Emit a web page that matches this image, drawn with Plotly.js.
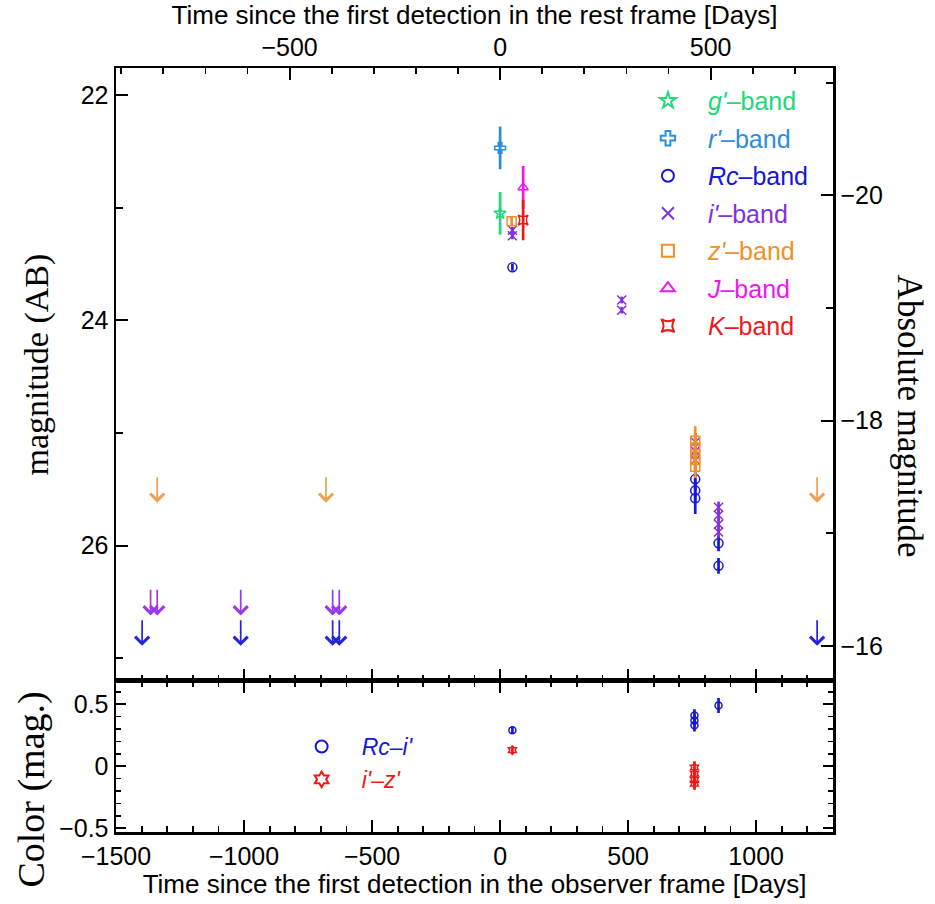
<!DOCTYPE html>
<html><head><meta charset="utf-8">
<script src="https://cdn.plot.ly/plotly-3.0.1.min.js"></script>
<style>html,body{margin:0;padding:0;background:#fff}</style>
</head><body>
<div id="chart" style="width:935px;height:904px"></div>
<script>
// ---- data (observer-frame days, AB magnitudes) ----
const gX = [0];            const gMag = [23.05];  const gErr = [0.19];
const rX = [0];            const rMag = [22.47];  const rErr = [0.19];
const RcX = [48, 762, 762, 762, 853, 853];
const RcMag = [23.53, 25.41, 25.51, 25.58, 25.98, 26.18];
const RcErr = [0.03, 0.10, 0.10, 0.14, 0.07, 0.07];
const iX = [48, 48, 475, 475, 762, 762, 762, 853, 853, 853, 853];
const iMag = [23.20, 23.25, 23.82, 23.91, 25.08, 25.16, 25.24, 25.66, 25.73, 25.81, 25.88];
const iErr = [0.03, 0.03, 0.03, 0.03, 0.08, 0.08, 0.08, 0.05, 0.05, 0.05, 0.05];
const zX = [45, 762, 762, 762, 762, 762];
const zMag = [23.12, 25.07, 25.13, 25.19, 25.24, 25.30];
const zErr = [0.04, 0.13, 0.10, 0.10, 0.10, 0.10];
const JX = [90];  const JMag = [22.82];  const JErr = [0.19];
const KX = [90];  const KMag = [23.11];  const KErr = [0.18];

// upper limits
const zLimX = [-1339, -680, 1238];             const zLim = [25.38, 25.38, 25.38];
const iLimX = [-1365, -1339, -1013, -654, -628]; const iLim = [26.38, 26.38, 26.38, 26.38, 26.38];
const RcLimX = [-1398, -1013, -654, -628, 1238]; const RcLim = [26.65, 26.65, 26.65, 26.65, 26.65];

// colours
const RciX = [48, 759, 759, 759, 853];
const Rci = [0.29, 0.41, 0.37, 0.33, 0.49];
const RciErr = [0.03, 0.05, 0.05, 0.05, 0.06];
const izX = [48, 759, 759, 759, 759];
const iz = [0.13, -0.01, -0.06, -0.11, -0.14];
const izErr = [0.03, 0.05, 0.05, 0.05, 0.05];

const REDSHIFT = 0.644;     // observer -> rest frame
const DIST_MOD = 42.89;     // apparent -> absolute
const X_RANGE = [-1500, 1300];
const MAG_RANGE = [27.2, 21.76];
const COL_RANGE = [-0.53, 0.69];
const ARROW_LEN = 0.24;

const C = {g:'#22d878', r:'#2a8ee0', Rc:'#1616dc', i:'#8230e0', z:'#f0902a', J:'#ee18ee', K:'#ee1a1a',
           zLim:'#f0a050', iLim:'#9a38ee', RcLim:'#2424dc'};

const SANS = 'Liberation Sans, Arial, sans-serif';
const SERIF = 'Liberation Serif, Times New Roman, serif';

function band(x, y, e, name, col, sym, xa, ya, leg, size){
  return {type:'scatter', mode:'markers', x:x, y:y, xaxis:xa, yaxis:ya, legend:leg,
    name:'<span style="color:'+col+'">'+name+'</span>', legendgroup:name,
    marker:{symbol:sym, size:size||9, color:col, line:{color:col, width:1.5}},
    error_y:{type:'data', array:e, visible:true, color:col, thickness:2.7, width:0},
    hoverinfo:'skip'};
}

const traces = [
  band(gX, gMag, gErr, "<i>g'</i>–band", C.g, 'star-open', 'x2', 'y', 'legend'),
  band(rX, rMag, rErr, "<i>r'</i>–band", C.r, 'cross-open', 'x2', 'y', 'legend'),
  band(RcX, RcMag, RcErr, "<i>Rc</i>–band", C.Rc, 'circle-open', 'x2', 'y', 'legend'),
  band(iX, iMag, iErr, "<i>i'</i>–band", C.i, 'x-thin', 'x2', 'y', 'legend'),
  band(zX, zMag, zErr, "<i>z'</i>–band", C.z, 'square-open', 'x2', 'y', 'legend'),
  band(JX, JMag, JErr, "<i>J</i>–band", C.J, 'triangle-up-open', 'x2', 'y', 'legend'),
  band(KX, KMag, KErr, "<i>K</i>–band", C.K, 'star-square-open', 'x2', 'y', 'legend'),
  band(RciX, Rci, RciErr, "<i>Rc–i'</i>", C.Rc, 'circle-open', 'x', 'y2', 'legend2', 7),
  band(izX, iz, izErr, "<i>i'–z'</i>", C.K, 'hexagram-open', 'x', 'y2', 'legend2', 7),
  {type:'scatter', x:[null], y:[null], xaxis:'x3', yaxis:'y', showlegend:false, hoverinfo:'skip'},
  {type:'scatter', x:[null], y:[null], xaxis:'x2', yaxis:'y3', showlegend:false, hoverinfo:'skip'}
];

const annotations = [];
function limits(xs, ys, col){
  xs.forEach((x, k) => annotations.push({xref:'x2', yref:'y', axref:'x2', ayref:'y',
    x:x, y:ys[k] + ARROW_LEN, ax:x, ay:ys[k], text:'', showarrow:true,
    arrowhead:4, arrowsize:1.6, arrowwidth:1.7, arrowcolor:col}));
}
limits(zLimX, zLim, C.zLim);
limits(iLimX, iLim, C.iLim);
limits(RcLimX, RcLim, C.RcLim);

annotations.push(
  {xref:'paper', yref:'paper', x:-0.11, y:0.612, text:'magnitude (AB)', textangle:-90, showarrow:false,
   xanchor:'center', yanchor:'middle', font:{family:SERIF, size:34, color:'#000'}},
  {xref:'paper', yref:'paper', x:-0.118, y:0.056, text:'Color (mag.)', textangle:-90, showarrow:false,
   xanchor:'center', yanchor:'middle', font:{family:SERIF, size:38, color:'#000'}},
  {xref:'paper', yref:'paper', x:1.106, y:0.545, text:'Absolute magnitude', textangle:90, showarrow:false,
   xanchor:'center', yanchor:'middle', font:{family:SERIF, size:35, color:'#000'}}
);

const tickStyle = {ticks:'inside', tickcolor:'#000', tickwidth:2, showline:true, linecolor:'#000', linewidth:2.5,
  showgrid:false, zeroline:false, tickfont:{family:SANS, size:25, color:'#000'}};
const MAIN_DOMAIN = [0.198, 1];
const SUB_DOMAIN = [0, 0.198];

const layout = {
  width:935, height:904, margin:{l:116, r:102, t:68, b:72},
  paper_bgcolor:'#fff', plot_bgcolor:'#fff',
  font:{family:SANS, size:25, color:'#000'},
  showlegend:true,
  xaxis: Object.assign({}, tickStyle, {domain:[0,1], anchor:'y2', range:X_RANGE, tick0:0, dtick:500, ticklen:12,
    mirror:'ticks', minor:{dtick:100, ticks:'inside', ticklen:6, tickwidth:1.8, tickcolor:'#000'},
    title:{text:'Time since the first detection in the observer frame [Days]', font:{family:SANS, size:26}, standoff:2}}),
  xaxis2: Object.assign({}, tickStyle, {domain:[0,1], anchor:'y', range:X_RANGE, tick0:0, dtick:500, ticklen:12,
    mirror:true, showticklabels:false, minor:{dtick:100, ticks:'inside', ticklen:6, tickwidth:1.8, tickcolor:'#000'}}),
  xaxis3: Object.assign({}, tickStyle, {overlaying:'x2', side:'top', anchor:'y',
    range:[X_RANGE[0]/(1+REDSHIFT), X_RANGE[1]/(1+REDSHIFT)], tick0:0, dtick:500, ticklen:12,
    minor:{dtick:100, ticks:'inside', ticklen:6, tickwidth:1.8, tickcolor:'#000'},
    title:{text:'Time since the first detection in the rest frame [Days]', font:{family:SANS, size:26}, standoff:2}}),
  yaxis: Object.assign({}, tickStyle, {domain:MAIN_DOMAIN, anchor:'x2', range:MAG_RANGE, tick0:22, dtick:2, ticklen:12,
    mirror:true, minor:{dtick:1, ticks:'inside', ticklen:7, tickwidth:1.8, tickcolor:'#000'}}),
  yaxis3: Object.assign({}, tickStyle, {overlaying:'y', side:'right', anchor:'x2',
    range:[MAG_RANGE[0]-DIST_MOD, MAG_RANGE[1]-DIST_MOD], tick0:-20, dtick:2, ticklen:12,
    minor:{dtick:1, ticks:'inside', ticklen:7, tickwidth:1.8, tickcolor:'#000'}}),
  yaxis2: Object.assign({}, tickStyle, {domain:SUB_DOMAIN, anchor:'x', range:COL_RANGE, tick0:0, dtick:0.5, ticklen:10,
    mirror:'ticks', minor:{dtick:0.1, ticks:'inside', ticklen:5, tickwidth:1.5, tickcolor:'#000'}}),
  legend:{x:0.714, y:0.987, xanchor:'left', yanchor:'top', bgcolor:'rgba(0,0,0,0)', borderwidth:0,
    font:{family:SANS, size:25}, itemwidth:70, itemsizing:'constant', traceorder:'grouped', tracegroupgap:2},
  legend2:{x:0.231, y:0.14, xanchor:'left', yanchor:'top', bgcolor:'rgba(0,0,0,0)', borderwidth:0,
    font:{family:SANS, size:23}, itemwidth:70, itemsizing:'constant', traceorder:'normal'},
  annotations:annotations
};

Plotly.newPlot('chart', traces, layout, {displayModeBar:false, staticPlot:true});
</script>
</body></html>
